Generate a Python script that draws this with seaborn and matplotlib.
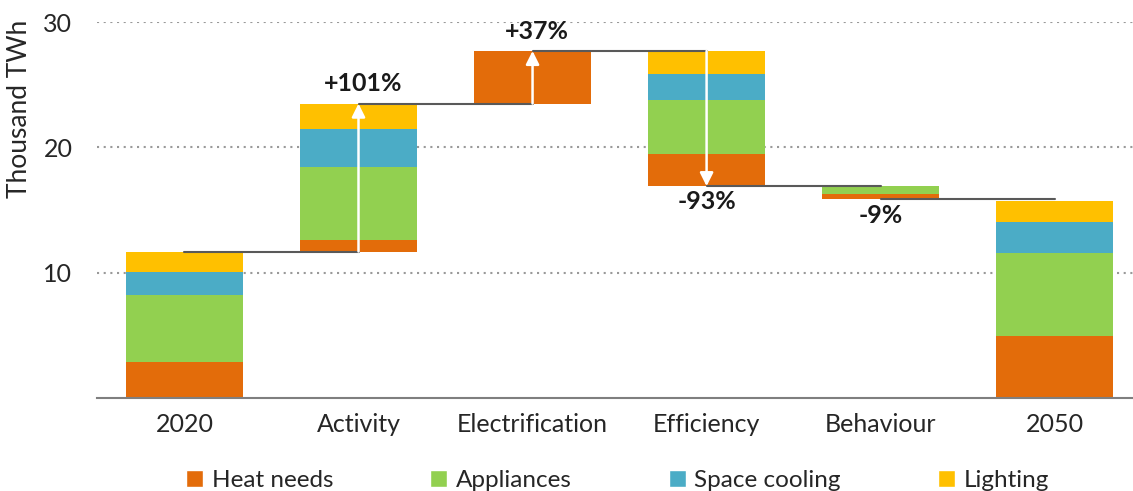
import numpy as np
import pandas as pd
import matplotlib
matplotlib.use("Agg")
import matplotlib.pyplot as plt
import seaborn as sns
from matplotlib.patches import Patch

# data (thousand TWh), segment sizes per bar
categories = ["2020", "Activity", "Electrification", "Efficiency", "Behaviour", "2050"]
kinds = ["total", "up", "up", "down", "down", "total"]
heat = [2.9, 0.9, 4.2, 2.58, 0.4, 4.95]
appliances = [5.35, 5.85, 0.0, 4.26, 0.65, 6.65]
cooling = [1.8, 3.05, 0.0, 2.13, 0.0, 2.45]
lighting = [1.65, 2.0, 0.0, 1.82, 0.0, 1.7]
pct_labels = ["", "+101%", "+37%", "-93%", "-9%", ""]

components = ["Heat needs", "Appliances", "Space cooling", "Lighting"]
colors = ["#E36C0A", "#92D050", "#4BACC6", "#FFC000"]
seg = [heat, appliances, cooling, lighting]

sns.set_style("white")
plt.rcParams["font.family"] = ["Lato", "DejaVu Sans"]

# running level -> bar bases
totals = np.sum(seg, axis=0)
starts, ends, bases = [], [], []
level = 0.0
for k, t in zip(kinds, totals):
    if k == "total":
        s, e = 0.0, t
    elif k == "up":
        s, e = level, level + t
    else:
        s, e = level, level - t
    starts.append(s)
    ends.append(e)
    bases.append(min(s, e))
    level = e

rows = []
for i, cat in enumerate(categories):
    b = bases[i]
    for comp, vals in zip(components, seg):
        rows.append(dict(category=cat, component=comp, height=vals[i], bottom=b))
        b += vals[i]
df = pd.DataFrame(rows)

fig = plt.figure(figsize=(11.33, 4.91), dpi=100)
ax = fig.add_axes([0.086, 0.189, 0.914, 0.766])

for comp, col in zip(components, colors):
    sub = df[df["component"] == comp].set_index("category").loc[categories].reset_index()
    sns.barplot(data=sub, x="category", y="height", order=categories,
                bottom=sub["bottom"].to_numpy(), color=col, width=0.67,
                linewidth=0, saturation=1, ax=ax)

# connector lines
for i in range(len(categories) - 1):
    ax.plot([i, i + 1], [ends[i], ends[i]], color="#595959", lw=1.5, zorder=5)

# arrows and labels
for i, k in enumerate(kinds):
    if k == "total":
        continue
    if abs(ends[i] - starts[i]) > 2:
        ax.annotate("", xy=(i, ends[i]), xytext=(i, starts[i]),
                    arrowprops=dict(arrowstyle="-|>", color="white", lw=1.8,
                                    mutation_scale=20, shrinkA=0, shrinkB=0),
                    zorder=6)
    if k == "up":
        ax.annotate(pct_labels[i], xy=(i, ends[i]), xytext=(3, 6),
                    textcoords="offset points", ha="center", va="bottom",
                    fontsize=18, fontweight="bold", color="#1a1a1a")
    else:
        ax.annotate(pct_labels[i], xy=(i, ends[i]), xytext=(0, -3),
                    textcoords="offset points", ha="center", va="top",
                    fontsize=18, fontweight="bold", color="#1a1a1a")

ax.set_ylim(0, 30)
ax.set_xlim(-0.5, 5.45)
ax.set_yticks([10, 20, 30])
ax.yaxis.grid(True, linestyle=(0, (1, 2.2)), color="#999999", lw=1.5)
ax.set_axisbelow(True)
for s in ["left", "right", "top"]:
    ax.spines[s].set_visible(False)
ax.spines["bottom"].set_color("#7F7F7F")
ax.spines["bottom"].set_linewidth(1.5)
ax.tick_params(axis="both", length=0, labelsize=18, colors="#262626")
ax.tick_params(axis="x", pad=11)
ax.tick_params(axis="y", pad=18)
ax.set_xlabel("")
ax.set_ylabel("Thousand TWh", fontsize=19, color="#262626")
ax.yaxis.set_label_coords(-0.063, 0.77)

handles = [Patch(facecolor=c, label=l) for c, l in zip(colors, components)]
fig.legend(handles=handles, loc="lower center", bbox_to_anchor=(0.545, -0.045),
           ncol=4, frameon=False, fontsize=17.5, handlelength=0.7, handleheight=0.7,
           handletextpad=0.35, columnspacing=4.0)

fig.savefig("out.png", dpi=100)
